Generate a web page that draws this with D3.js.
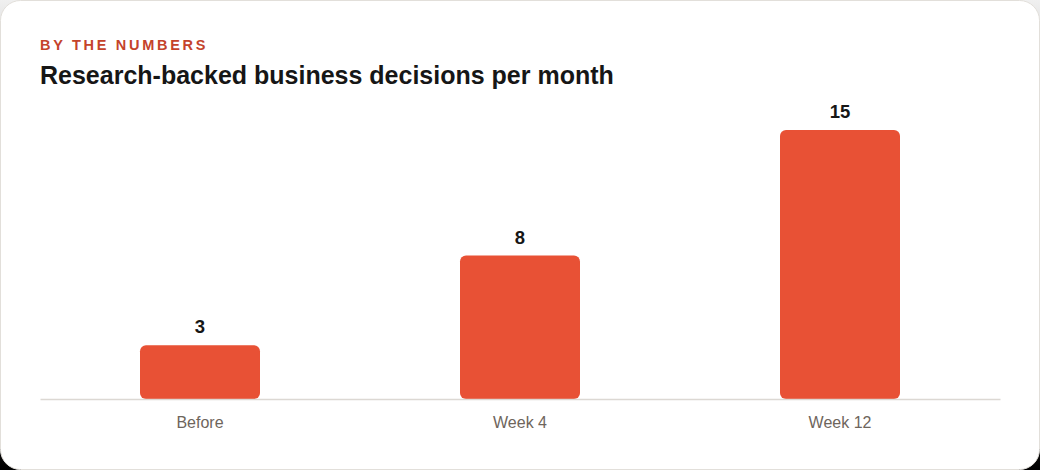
<!DOCTYPE html>
<html>
<head>
<meta charset="utf-8">
<script src="https://cdn.jsdelivr.net/npm/d3@7"></script>
<style>
  html, body { margin: 0; padding: 0; }
  body { width: 1040px; height: 470px; background: linear-gradient(to bottom, #f0f0f0, #000); overflow: hidden; }
  svg { display: block; }
</style>
</head>
<body>
<svg id="chart" width="1040" height="470"></svg>
<script>
const categories = ["Before", "Week 4", "Week 12"];
const values = [3, 8, 15];
const eyebrow = "BY THE NUMBERS";
const title = "Research-backed business decisions per month";

const W = 1040, H = 470;
const svg = d3.select("#chart");

svg.append("rect")
  .attr("x", 0.5).attr("y", 0.5)
  .attr("width", W - 1).attr("height", H - 1)
  .attr("rx", 20).attr("ry", 20)
  .attr("fill", "#ffffff")
  .attr("stroke", "#e2dfda");

svg.append("text")
  .attr("x", 40).attr("y", 50)
  .attr("font-family", "Liberation Sans, Arial, sans-serif")
  .attr("font-size", 14.5).attr("font-weight", 700)
  .attr("letter-spacing", "2.7px")
  .attr("fill", "#c4432b")
  .text(eyebrow);

svg.append("text")
  .attr("x", 40).attr("y", 84)
  .attr("font-family", "Liberation Sans, Arial, sans-serif")
  .attr("font-size", 25).attr("font-weight", 700)
  .attr("fill", "#161616")
  .text(title);

const x = d3.scaleBand().domain(categories).range([40, 1000]).padding(0);
const y = d3.scaleLinear().domain([0, 15]).range([399, 130]);
const barW = 120;

const g = svg.append("g");

g.selectAll("rect.bar")
  .data(values)
  .join("rect")
  .attr("class", "bar")
  .attr("x", (d, i) => x(categories[i]) + x.bandwidth() / 2 - barW / 2)
  .attr("y", d => y(d))
  .attr("width", barW)
  .attr("height", d => y(0) - y(d))
  .attr("rx", 6).attr("ry", 6)
  .attr("fill", "#e85135");

g.selectAll("text.val")
  .data(values)
  .join("text")
  .attr("class", "val")
  .attr("x", (d, i) => x(categories[i]) + x.bandwidth() / 2)
  .attr("y", d => y(d) - 12)
  .attr("text-anchor", "middle")
  .attr("font-family", "Liberation Sans, Arial, sans-serif")
  .attr("font-size", 18.5).attr("font-weight", 700)
  .attr("fill", "#161616")
  .text(d => d);

const axis = d3.axisBottom(x).tickSize(0).tickPadding(0);
const ax = svg.append("g").attr("transform", `translate(0,${y(0)})`).call(axis);
ax.select(".domain").attr("stroke", "#dcd8d3").attr("stroke-width", 1.5);
ax.selectAll(".tick text")
  .attr("y", 29)
  .attr("dy", 0)
  .attr("font-family", "Liberation Sans, Arial, sans-serif")
  .attr("font-size", 16)
  .attr("fill", "#6e655c");
</script>
</body>
</html>
